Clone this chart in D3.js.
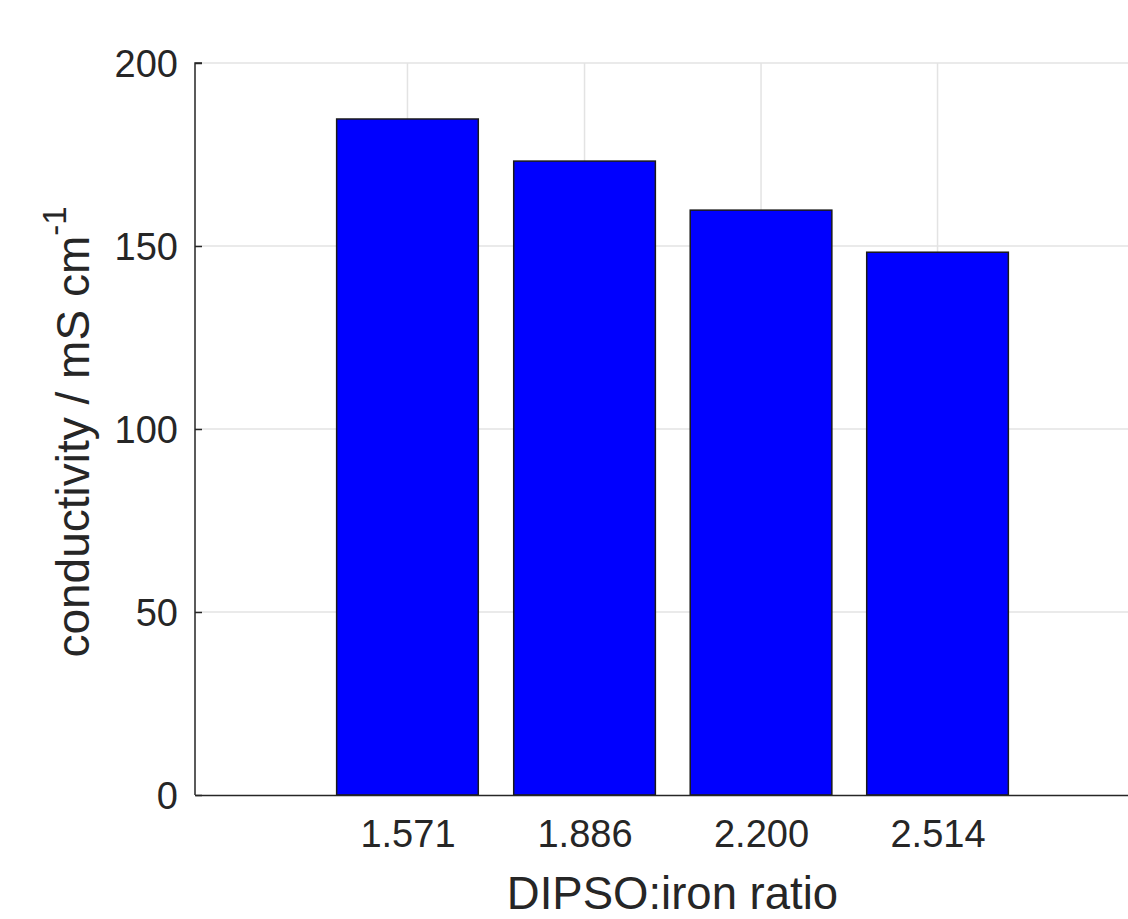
<!DOCTYPE html>
<html>
<head>
<meta charset="utf-8">
<script src="https://cdn.jsdelivr.net/npm/d3@7"></script>
<style>
  body { margin: 0; background: #fff; }
  svg text { font-family: "Liberation Sans", Arial, sans-serif; fill: #262626; }
</style>
</head>
<body>
<div id="chart"></div>
<script>
// data
var ratios = [1.571, 1.886, 2.200, 2.514];
var ratioLabels = ["1.571", "1.886", "2.200", "2.514"];
var conductivity = [184.7, 173.2, 159.8, 148.3];
var yTicks = [0, 50, 100, 150, 200];

var w = 1128, h = 919;
var margin = { top: 63, right: -22, bottom: 124, left: 195 }; // plot runs off the right edge
var width = w - margin.left - margin.right;
var height = h - margin.top - margin.bottom;

var svg = d3.select("#chart").append("svg")
    .attr("width", w)
    .attr("height", h)
    .append("g")
    .attr("transform", `translate(${margin.left},${margin.top})`);

// --- scales ---
var step = ratios[1] - ratios[0];
var xScale = d3.scaleLinear()
    .domain([ratios[0] - 1.2 * step, ratios[ratios.length - 1] + 1.2 * step])
    .range([0, width]);
var yScale = d3.scaleLinear().domain([0, 200]).range([height, 0]);
var barW = xScale(ratios[0] + 0.8 * step) - xScale(ratios[0]);

// --- grid ---
svg.append("g")
    .selectAll("line.hgrid")
    .data(yTicks.filter(d => d > 0))
    .enter().append("line")
    .attr("x1", 0).attr("x2", width)
    .attr("y1", d => yScale(d)).attr("y2", d => yScale(d))
    .attr("stroke", "#e3e3e3").attr("stroke-width", 1.5);

svg.append("g")
    .selectAll("line.vgrid")
    .data(ratios)
    .enter().append("line")
    .attr("x1", d => xScale(d)).attr("x2", d => xScale(d))
    .attr("y1", 0).attr("y2", height)
    .attr("stroke", "#e3e3e3").attr("stroke-width", 1.5);

// --- bars ---
svg.append("g")
    .selectAll("rect")
    .data(conductivity)
    .enter().append("rect")
    .attr("x", (d, i) => xScale(ratios[i]) - barW / 2)
    .attr("y", d => yScale(d))
    .attr("width", barW)
    .attr("height", d => height - yScale(d))
    .attr("fill", "#0000ff")
    .attr("stroke", "#1a1a1a")
    .attr("stroke-width", 1.5);

// --- axes ---
var yAxis = svg.append("g")
    .call(d3.axisLeft(yScale).tickValues(yTicks).tickSize(-7).tickPadding(17));
yAxis.select(".domain").attr("stroke", "#262626").attr("stroke-width", 1.5)
    .attr("d", `M0,${height}V0h7`);
yAxis.selectAll(".tick line").attr("stroke", "#262626").attr("stroke-width", 1.5);
yAxis.selectAll(".tick text").style("font-size", "38px").attr("dy", "0.35em");

var xAxis = svg.append("g")
    .attr("transform", `translate(0,${height})`)
    .call(d3.axisBottom(xScale).tickValues(ratios).tickFormat((d, i) => ratioLabels[i]).tickSize(0).tickPadding(25));
xAxis.select(".domain").attr("stroke", "#262626").attr("stroke-width", 1.5);
xAxis.selectAll(".tick text").style("font-size", "38px");

// --- labels ---
svg.append("text")
    .attr("x", width / 2)
    .attr("y", height + 114)
    .attr("text-anchor", "middle")
    .style("font-size", "45.5px")
    .text("DIPSO:iron ratio");

var yl = svg.append("text")
    .attr("transform", "rotate(-90)")
    .attr("x", -369)
    .attr("y", -106)
    .attr("text-anchor", "middle")
    .style("font-size", "46px");
yl.append("tspan").text("conductivity / mS cm");
yl.append("tspan").attr("dy", "-23px").style("font-size", "33px").text("-1");
</script>
</body>
</html>
